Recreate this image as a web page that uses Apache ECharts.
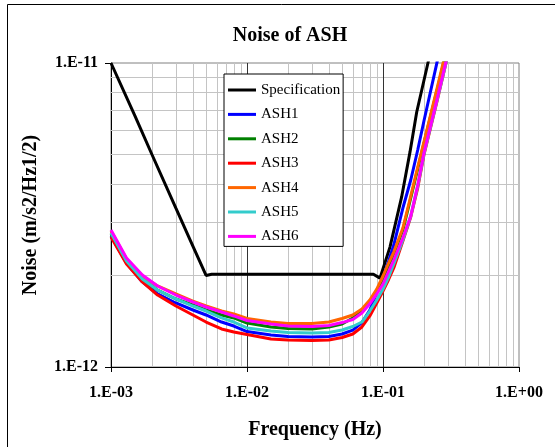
<!DOCTYPE html>
<html>
<head>
<meta charset="utf-8">
<script src="https://cdn.jsdelivr.net/npm/echarts@6/dist/echarts.min.js"></script>
<style>
  html, body { margin: 0; padding: 0; background: #fff; }
  #chart { width: 555px; height: 447px; }
</style>
</head>
<body>
<div id="chart"></div>
<script>
// frequencies (Hz) shared by the six ASH curves
const freq = [0.001, 0.0013, 0.0017, 0.0022, 0.003, 0.004, 0.005, 0.0065, 0.008, 0.01,
  0.015, 0.02, 0.03, 0.04, 0.05, 0.06, 0.07, 0.08, 0.09, 0.1,
  0.11, 0.12, 0.14, 0.16, 0.18, 0.2, 0.25, 0.3]

// noise (m/s2/Hz1/2)
const ash1 = [2.697e-12, 2.198e-12, 1.905e-12, 1.739e-12, 1.624e-12, 1.540e-12, 1.483e-12, 1.406e-12, 1.364e-12, 1.308e-12,
  1.274e-12, 1.260e-12, 1.255e-12, 1.260e-12, 1.284e-12, 1.323e-12, 1.400e-12, 1.540e-12, 1.751e-12, 1.962e-12,
  2.232e-12, 2.519e-12, 3.334e-12, 4.122e-12, 5.174e-12, 6.445e-12, 1.008e-11, 1.461e-11]
const ash2 = [2.738e-12, 2.215e-12, 1.948e-12, 1.792e-12, 1.674e-12, 1.600e-12, 1.540e-12, 1.483e-12, 1.450e-12, 1.395e-12,
  1.354e-12, 1.339e-12, 1.334e-12, 1.354e-12, 1.385e-12, 1.450e-12, 1.528e-12, 1.636e-12, 1.778e-12, 1.948e-12,
  2.149e-12, 2.353e-12, 2.822e-12, 3.597e-12, 4.480e-12, 5.455e-12, 8.152e-12, 1.146e-11]
const ash3 = [2.677e-12, 2.182e-12, 1.905e-12, 1.725e-12, 1.587e-12, 1.483e-12, 1.406e-12, 1.334e-12, 1.303e-12, 1.279e-12,
  1.236e-12, 1.227e-12, 1.222e-12, 1.227e-12, 1.250e-12, 1.284e-12, 1.354e-12, 1.472e-12, 1.624e-12, 1.778e-12,
  1.940e-12, 2.117e-12, 2.597e-12, 3.115e-12, 3.880e-12, 4.982e-12, 7.499e-12, 1.062e-11]
const ash4 = [2.801e-12, 2.266e-12, 1.992e-12, 1.847e-12, 1.739e-12, 1.648e-12, 1.587e-12, 1.528e-12, 1.494e-12, 1.444e-12,
  1.406e-12, 1.390e-12, 1.390e-12, 1.406e-12, 1.444e-12, 1.483e-12, 1.551e-12, 1.661e-12, 1.805e-12, 1.992e-12,
  2.198e-12, 2.389e-12, 2.866e-12, 3.652e-12, 4.549e-12, 5.497e-12, 8.276e-12, 1.163e-11]
const ash5 = [2.759e-12, 2.232e-12, 1.948e-12, 1.792e-12, 1.674e-12, 1.587e-12, 1.528e-12, 1.450e-12, 1.406e-12, 1.344e-12,
  1.313e-12, 1.299e-12, 1.294e-12, 1.299e-12, 1.323e-12, 1.359e-12, 1.406e-12, 1.528e-12, 1.661e-12, 1.805e-12,
  1.977e-12, 2.182e-12, 2.617e-12, 3.139e-12, 3.939e-12, 5.020e-12, 7.557e-12, 1.062e-11]
const ash6 = [2.822e-12, 2.283e-12, 2.007e-12, 1.847e-12, 1.725e-12, 1.636e-12, 1.575e-12, 1.517e-12, 1.472e-12, 1.422e-12,
  1.385e-12, 1.364e-12, 1.359e-12, 1.369e-12, 1.400e-12, 1.433e-12, 1.505e-12, 1.614e-12, 1.739e-12, 1.875e-12,
  2.062e-12, 2.249e-12, 2.656e-12, 3.139e-12, 3.969e-12, 5.058e-12, 7.612e-12, 1.071e-11]

// specification curve
const specFreq = [0.001, 0.0015, 0.002, 0.003, 0.004, 0.005, 0.0055, 0.085, 0.095, 0.1125, 0.137, 0.158, 0.177, 0.214, 0.23]
const specNoise = [1e-11, 6.7e-12, 5.0e-12, 3.33e-12, 2.5e-12, 2.0e-12, 2.02e-12, 2.02e-12, 1.96e-12, 2.48e-12, 3.62e-12, 5.1e-12, 6.9e-12, 1.0e-11, 1.15e-11]

const seriesNames = ['Specification', 'ASH1', 'ASH2', 'ASH3', 'ASH4', 'ASH5', 'ASH6']
const seriesColors = ['#000000', '#0000ff', '#008000', '#ff0000', '#ff6600', '#33cccc', '#ff00ff']

const xTickLabels = ['1.E-03', '1.E-02', '1.E-01', '1.E+00']
const yTickLabels = ['1.E-12', '1.E-11']

// grid lines
const xMinorGrid = [0.002, 0.003, 0.004, 0.005, 0.006, 0.007, 0.008, 0.009,
  0.02, 0.03, 0.04, 0.05, 0.06, 0.07, 0.08, 0.09,
  0.2, 0.3, 0.4, 0.5, 0.6, 0.7, 0.8, 0.9]
const xMajorGrid = [0.01, 0.1]
const yMinorGrid = [2e-12, 3e-12, 4e-12, 5e-12, 6e-12, 7e-12, 8e-12, 9e-12]

const serif = '"Liberation Serif", "Times New Roman", serif'

const chart = echarts.init(document.getElementById('chart'), null, { renderer: 'canvas' })

const pairs = (xs, ys) => xs.map((x, i) => [x, ys[i]])
const curves = [
  pairs(specFreq, specNoise),
  pairs(freq, ash1), pairs(freq, ash2), pairs(freq, ash3),
  pairs(freq, ash4), pairs(freq, ash5), pairs(freq, ash6)
]

// invisible carrier series for the grid lines (markLine keeps them under the curves)
const gridSeries = {
  name: 'grid',
  type: 'line',
  data: [[0.001, 1e-12]],
  symbol: 'none',
  lineStyle: { opacity: 0 },
  silent: true,
  z: 1,
  markLine: {
    z: 1,
    silent: true,
    animation: false,
    precision: 15,
    symbol: ['none', 'none'],
    label: { show: false },
    lineStyle: { color: '#c4c4c4', width: 1, type: 'solid' },
    emphasis: { disabled: true },
    data: [
      ...xMinorGrid.map(v => ({ xAxis: v })),
      ...yMinorGrid.map(v => ({ yAxis: v })),
      ...xMajorGrid.map(v => ({ xAxis: v, lineStyle: { color: '#333333', width: 1, type: 'solid' } }))
    ]
  }
}

chart.setOption({
  animation: false,
  backgroundColor: '#fff',
  textStyle: { fontFamily: serif },
  title: {
    text: 'Noise of ASH',
    left: 285,
    textAlign: 'center',
    top: 21,
    textStyle: { fontFamily: serif, fontSize: 20, fontWeight: 'bold', color: '#000' }
  },
  graphic: [{
    type: 'rect',
    silent: true,
    shape: { x: 7.5, y: 4.5, width: 700, height: 700 },
    style: { fill: 'none', stroke: '#000', lineWidth: 1 }
  }],
  legend: {
    data: seriesNames,
    orient: 'vertical',
    left: 224,
    top: 74,
    z: 10,
    padding: [8, 3, 2, 4],
    itemGap: 8.4,
    itemWidth: 28,
    itemHeight: 3,
    icon: 'rect',
    backgroundColor: '#fff',
    borderColor: '#000',
    borderWidth: 1,
    borderRadius: 0,
    textStyle: { fontFamily: serif, fontSize: 15, color: '#000', lineHeight: 16 }
  },
  grid: {
    left: 111,
    top: 63,
    width: 408,
    height: 304,
    show: true,
    borderColor: '#808080',
    borderWidth: 1
  },
  xAxis: {
    type: 'log',
    logBase: 10,
    min: 0.001,
    max: 1,
    name: 'Frequency (Hz)',
    nameLocation: 'middle',
    nameGap: 53,
    nameTextStyle: { fontFamily: serif, fontSize: 20, fontWeight: 'bold', color: '#000' },
    axisLine: { lineStyle: { color: '#000', width: 1 } },
    axisTick: { show: true, length: 5, lineStyle: { color: '#000' } },
    splitLine: { show: false },
    axisLabel: {
      margin: 18,
      showMinLabel: true,
      showMaxLabel: true,
      fontFamily: serif,
      fontSize: 16,
      fontWeight: 'bold',
      color: '#000',
      formatter: v => xTickLabels[Math.round(Math.log10(v)) + 3]
    }
  },
  yAxis: {
    type: 'log',
    logBase: 10,
    min: 1e-12,
    max: 1e-11,
    name: 'Noise (m/s2/Hz1/2)',
    nameLocation: 'middle',
    nameGap: 70,
    nameTextStyle: { fontFamily: serif, fontSize: 20, fontWeight: 'bold', color: '#000' },
    axisLine: { show: true, lineStyle: { color: '#000', width: 1 } },
    axisTick: { show: true, length: 6, lineStyle: { color: '#000' } },
    splitLine: { show: false },
    axisLabel: {
      margin: 13,
      showMinLabel: true,
      showMaxLabel: true,
      fontFamily: serif,
      fontSize: 16,
      fontWeight: 'bold',
      color: '#000',
      formatter: v => yTickLabels[Math.round(Math.log10(v)) + 12]
    }
  },
  series: [gridSeries].concat(seriesNames.map((name, i) => ({
    name,
    type: 'line',
    data: curves[i],
    symbol: 'none',
    smooth: false,
    clip: true,
    z: 2,
    color: seriesColors[i],
    lineStyle: { color: seriesColors[i], width: 3 }
  })))
})
</script>
</body>
</html>
